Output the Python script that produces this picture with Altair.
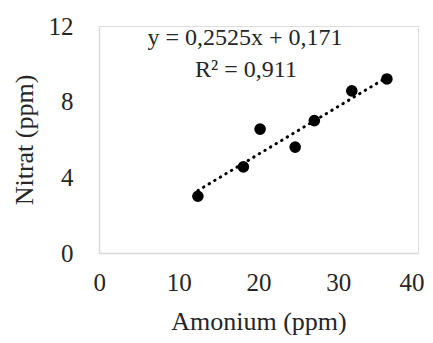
import altair as alt
import pandas as pd

amonium = [12.4, 18.1, 20.2, 24.6, 27.0, 31.7, 36.1]
nitrat = [3.0, 4.55, 6.55, 5.6, 7.0, 8.57, 9.2]

slope = 0.2525
intercept = 0.171
trend_x = [min(amonium), max(amonium)]
trend_y = [slope * v + intercept for v in trend_x]

eq_lines = ["y = 0,2525x + 0,171", "R² = 0,911"]

FONT = "Liberation Serif"
TXT = "#262626"

pts = pd.DataFrame({"x": amonium, "y": nitrat})
trend = pd.DataFrame({"x": trend_x, "y": trend_y})

xs = alt.Scale(domain=[0, 40], nice=False)
ys = alt.Scale(domain=[0, 12], nice=False)

xaxis = alt.Axis(values=[0, 10, 20, 30, 40], title="Amonium (ppm)", grid=False, ticks=False,
                 labelFlush=True, labelFlushOffset=6, labelOverlap=False,
                 domainColor="#d9d9d9", domainWidth=1.5, labelFont=FONT, labelFontSize=25,
                 labelColor=TXT, labelPadding=17, titleFont=FONT, titleFontSize=26,
                 titleFontWeight="normal", titleColor=TXT, titlePadding=13)
yaxis = alt.Axis(values=[0, 4, 8, 12], title="Nitrat (ppm)", grid=False, ticks=False,
                 labelFlush=False, labelOverlap=False,
                 domainColor="#d9d9d9", domainWidth=1.5, labelFont=FONT, labelFontSize=25,
                 labelColor=TXT, labelPadding=26, titleFont=FONT, titleFontSize=26,
                 titleFontWeight="normal", titleColor=TXT, titlePadding=11)

points = alt.Chart(pts).mark_circle(size=135, color="black", opacity=1).encode(
    x=alt.X("x:Q", scale=xs, axis=xaxis),
    y=alt.Y("y:Q", scale=ys, axis=yaxis),
)

line = alt.Chart(trend).mark_line(color="black", strokeWidth=3, strokeDash=[0.5, 6],
                                  strokeCap="round").encode(
    x=alt.X("x:Q", scale=xs),
    y=alt.Y("y:Q", scale=ys),
)

eq1 = alt.Chart(pd.DataFrame({"t": [eq_lines[0]]})).mark_text(
    font=FONT, fontSize=24, color=TXT, align="center", baseline="alphabetic").encode(
    text="t:N", x=alt.value(146), y=alt.value(19))
eq2 = alt.Chart(pd.DataFrame({"t": [eq_lines[1]]})).mark_text(
    font=FONT, fontSize=24, color=TXT, align="center", baseline="alphabetic").encode(
    text="t:N", x=alt.value(147), y=alt.value(51))

chart = alt.layer(line, points, eq1, eq2).properties(
    width=319, height=227,
    autosize=alt.AutoSizeParams(type="none"),
    padding={"left": 91, "top": 18, "right": 7, "bottom": 82},
).configure_view(stroke=None).configure(background="white")

chart.save("out.html", embed_options={"renderer": "svg", "actions": False})
